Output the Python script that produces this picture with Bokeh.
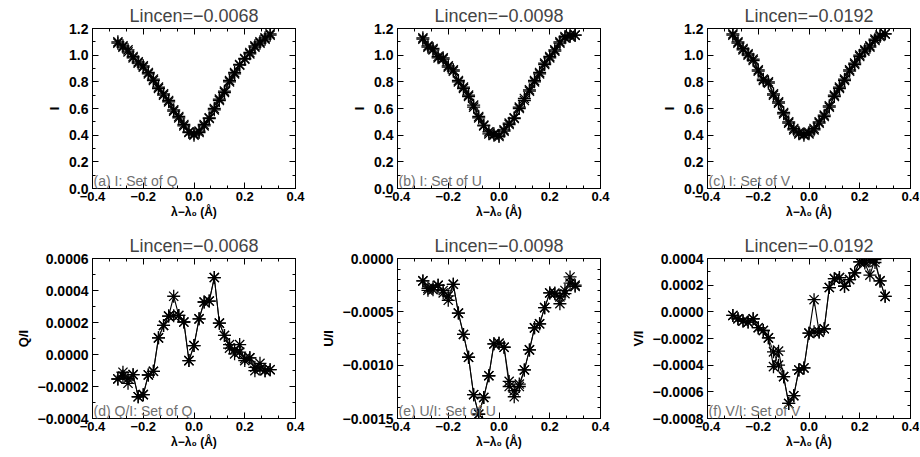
from bokeh.plotting import figure
from bokeh.models import FixedTicker, LinearAxis, Range1d, Label, CustomJSTickFormatter
from bokeh.layouts import gridplot
from bokeh.embed import file_html
from bokeh.resources import INLINE

# ---------------- data ----------------
wl = [-0.30, -0.28, -0.26, -0.24, -0.22, -0.20, -0.18, -0.16, -0.14, -0.12, -0.10,
      -0.08, -0.06, -0.04, -0.02, 0.00, 0.02, 0.04, 0.06, 0.08, 0.10,
      0.12, 0.14, 0.16, 0.18, 0.20, 0.22, 0.24, 0.26, 0.28, 0.30]

lincen = ["\u22120.0068", "\u22120.0098", "\u22120.0192"]

i_setq_a = [1.10, 1.07, 1.025, 0.99, 0.95, 0.91, 0.87, 0.81, 0.76, 0.71, 0.65, 0.59, 0.54, 0.47, 0.425, 0.41,
            0.43, 0.47, 0.525, 0.60, 0.66, 0.73, 0.81, 0.87, 0.925, 0.975, 1.02, 1.06, 1.09, 1.13, 1.16]
i_setq_b = [1.09, 1.06, 1.04, 0.98, 0.94, 0.92, 0.86, 0.82, 0.75, 0.70, 0.66, 0.58, 0.53, 0.48, 0.42, 0.40,
            0.42, 0.48, 0.53, 0.59, 0.67, 0.72, 0.80, 0.86, 0.93, 0.97, 1.01, 1.07, 1.10, 1.12, 1.15]
i_setu_a = [1.13, 1.07, 1.04, 0.99, 0.98, 0.92, 0.88, 0.81, 0.76, 0.69, 0.625, 0.54, 0.475, 0.425, 0.41, 0.39,
            0.44, 0.49, 0.525, 0.60, 0.675, 0.74, 0.81, 0.86, 0.94, 0.99, 1.04, 1.09, 1.14, 1.15, 1.15]
i_setu_b = [1.12, 1.06, 1.05, 0.98, 0.97, 0.91, 0.89, 0.80, 0.75, 0.70, 0.61, 0.53, 0.47, 0.41, 0.40, 0.40,
            0.43, 0.48, 0.53, 0.61, 0.66, 0.73, 0.80, 0.87, 0.93, 0.98, 1.03, 1.10, 1.13, 1.14, 1.15]
i_setv_a = [1.16, 1.10, 1.04, 1.01, 0.97, 0.89, 0.81, 0.80, 0.71, 0.65, 0.56, 0.50, 0.45, 0.42, 0.41, 0.41,
            0.45, 0.49, 0.54, 0.62, 0.69, 0.75, 0.81, 0.89, 0.94, 0.99, 1.03, 1.06, 1.11, 1.14, 1.16]
i_setv_b = [1.15, 1.09, 1.05, 1.00, 0.96, 0.88, 0.82, 0.79, 0.70, 0.64, 0.57, 0.49, 0.44, 0.41, 0.40, 0.42,
            0.44, 0.50, 0.55, 0.61, 0.70, 0.76, 0.82, 0.88, 0.93, 1.00, 1.04, 1.07, 1.12, 1.15, 1.16]

qi_a = [-0.000153, -0.000111, -0.000180, -0.000126, -0.000264, -0.000251, -0.000128, -0.000105, 0.000104,
        0.000182, 0.000240, 0.000364, 0.000244, 0.000203, -0.000038, 0.000056, 0.000223, 0.000328,
        0.000334, 0.000481, 0.000196, 0.000119, 0.000062, 0.000004, 0.000062, -0.000038, -0.000021,
        -0.000101, -0.000055, -0.000101, -0.000095]
qi_b = [-0.000153, -0.000135, -0.000150, -0.000126, -0.000264, -0.000251, -0.000128, -0.000105, 0.000104,
        0.000182, 0.000240, 0.000242, 0.000244, 0.000203, -0.000038, 0.000056, 0.000223, 0.000328,
        0.000334, 0.000481, 0.000196, 0.000119, 0.000040, 0.000030, 0.000015, -0.000025, -0.000021,
        -0.000080, -0.000090, -0.000101, -0.000095]

ui_a = [-0.000210, -0.000298, -0.000292, -0.000251, -0.000323, -0.000392, -0.000242, -0.000512, -0.000712,
        -0.000926, -0.001277, -0.001460, -0.001303, -0.001099, -0.000800, -0.000794, -0.000832, -0.001152,
        -0.001296, -0.001177, -0.001045, -0.000857, -0.000650, -0.000612, -0.000461, -0.000323, -0.000323,
        -0.000424, -0.000330, -0.000173, -0.000261]
ui_b = [-0.000210, -0.000280, -0.000270, -0.000251, -0.000300, -0.000350, -0.000242, -0.000512, -0.000712,
        -0.000926, -0.001277, -0.001460, -0.001303, -0.001099, -0.000800, -0.000794, -0.000832, -0.001200,
        -0.001240, -0.001200, -0.001045, -0.000857, -0.000650, -0.000612, -0.000461, -0.000323, -0.000330,
        -0.000360, -0.000300, -0.000230, -0.000250]

vi_a = [-0.000027, -0.000052, -0.000069, -0.000077, -0.000052, -0.000119, -0.000140, -0.000195, -0.000411,
        -0.000295, -0.000486, -0.000687, -0.000629, -0.000436, -0.000421, -0.000160, 0.000091, -0.000152,
        -0.000127, 0.000182, 0.000249, 0.000257, 0.000192, 0.000242, 0.000292, 0.000375, 0.000367,
        0.000275, 0.000392, 0.000232, 0.000116]
vi_b = [-0.000027, -0.000052, -0.000069, -0.000077, -0.000052, -0.000119, -0.000140, -0.000195, -0.000300,
        -0.000400, -0.000486, -0.000687, -0.000629, -0.000436, -0.000421, -0.000160, -0.000150, -0.000152,
        -0.000127, 0.000182, 0.000249, 0.000257, 0.000192, 0.000242, 0.000292, 0.000375, 0.000380,
        0.000385, 0.000370, 0.000232, 0.000116]

x_ticks = [-0.4, -0.2, 0.0, 0.2, 0.4]
x_minor = [-0.4 + k * 0.2 / 3 for k in range(13)]

FONT = "Liberation Sans"


def fmt(dec):
    return CustomJSTickFormatter(code="""
        var v = Math.abs(tick) < 1e-12 ? 0 : tick;
        return v.toFixed(%d).replace('-', '\\u2212');
    """ % dec)


def blank():
    return CustomJSTickFormatter(code="return '';")


def style_axis(ax):
    ax.major_tick_in = 6
    ax.major_tick_out = 0
    ax.minor_tick_in = 3
    ax.minor_tick_out = 0
    ax.axis_line_color = "black"
    ax.major_tick_line_color = "black"
    ax.minor_tick_line_color = "black"
    ax.major_label_text_font = FONT
    ax.major_label_text_font_style = "bold"
    ax.major_label_text_color = "black"
    ax.axis_label_text_font = FONT
    ax.axis_label_text_font_style = "bold"
    ax.axis_label_text_color = "black"


def panel(ya, yb, yr, yticks, yminor, ydec, ylabel, title, corner, width, height, left, top, bottom, right):
    p = figure(width=width, height=height, x_range=Range1d(-0.4, 0.4), y_range=Range1d(*yr),
               output_backend="svg", toolbar_location=None,
               min_border_left=left, min_border_right=right, min_border_top=top, min_border_bottom=bottom)
    p.grid.visible = False
    p.outline_line_color = "black"
    p.outline_line_width = 1
    p.title.text = "Lincen=" + title
    p.title.align = "center"
    p.title.text_font = FONT
    p.title.text_font_size = "18px"
    p.title.text_font_style = "normal"
    p.title.standoff = 5

    xax = p.xaxis[0]
    yax = p.yaxis[0]
    xax.ticker = FixedTicker(ticks=x_ticks, minor_ticks=x_minor)
    yax.ticker = FixedTicker(ticks=yticks, minor_ticks=yminor)
    xax.formatter = fmt(1)
    yax.formatter = fmt(ydec)
    xax.axis_label = "\u03bb\u2212\u03bb\u2080 (\u00c5)"
    yax.axis_label = ylabel
    style_axis(xax)
    style_axis(yax)
    xax.major_label_text_font_size = "13px"
    yax.major_label_text_font_size = "14px"
    xax.axis_label_text_font_size = "12px"
    yax.axis_label_text_font_size = "13px"
    xax.major_label_standoff = 3
    xax.axis_label_standoff = 1
    yax.major_label_standoff = 4
    yax.axis_label_standoff = 4

    tp = LinearAxis(ticker=FixedTicker(ticks=x_ticks, minor_ticks=x_minor), formatter=blank(),
                    major_label_standoff=0, axis_label_standoff=0)
    rg = LinearAxis(ticker=FixedTicker(ticks=yticks, minor_ticks=yminor), formatter=blank(),
                    major_label_standoff=0, axis_label_standoff=0)
    style_axis(tp)
    style_axis(rg)
    p.add_layout(tp, "above")
    p.add_layout(rg, "right")

    for ys, w in ((yb, 0.9), (ya, 1.1)):
        p.line(wl, ys, line_color="black", line_width=w)
        p.scatter(wl, ys, marker="asterisk", size=13, line_color="black", line_width=1.3)

    p.add_layout(Label(x=1, y=0, x_units="screen", y_units="screen", text=corner,
                       text_font=FONT, text_font_size="14px", text_color="#707070",
                       text_baseline="bottom"))
    return p


# column geometry: figure widths, left and right borders (frames ~203 px wide)
W = [307, 303, 309]
L = [92, 90, 97]
R = [12, 10, 9]
# row geometry
H1, T1, B1 = 230, 28, 42
H2, T2, B2 = 226, 28, 38

y_i = [0, 0.2, 0.4, 0.6, 0.8, 1.0, 1.2]
y_i_minor = [k * 0.1 for k in range(13)]

p1 = panel(i_setq_a, i_setq_b, (0, 1.2), y_i, y_i_minor, 1, "I", lincen[0], "(a) I: Set of Q",
           W[0], H1, L[0], T1, B1, R[0])
p2 = panel(i_setu_a, i_setu_b, (0, 1.2), y_i, y_i_minor, 1, "I", lincen[1], "(b) I: Set of U",
           W[1], H1, L[1], T1, B1, R[1])
p3 = panel(i_setv_a, i_setv_b, (0, 1.2), y_i, y_i_minor, 1, "I", lincen[2], "(c) I: Set of V",
           W[2], H1, L[2], T1, B1, R[2])
p4 = panel(qi_a, qi_b, (-0.0004, 0.0006), [-0.0004, -0.0002, 0.0, 0.0002, 0.0004, 0.0006],
           [-0.0004 + k * 0.0001 for k in range(11)], 4, "Q/I", lincen[0], "(d) Q/I: Set of Q",
           W[0], H2, L[0], T2, B2, R[0])
p5 = panel(ui_a, ui_b, (-0.0015, 0.0), [-0.0015, -0.0010, -0.0005, 0.0],
           [-0.0015 + k * 0.0001 for k in range(16)], 4, "U/I", lincen[1], "(e) U/I: Set of U",
           W[1], H2, L[1], T2, B2, R[1])
p6 = panel(vi_a, vi_b, (-0.0008, 0.0004), [-0.0008, -0.0006, -0.0004, -0.0002, 0.0, 0.0002, 0.0004],
           [-0.0008 + k * 0.0001 for k in range(13)], 4, "V/I", lincen[2], "(f) V/I: Set of V",
           W[2], H2, L[2], T2, B2, R[2])

grid = gridplot([[p1, p2, p3], [p4, p5, p6]], toolbar_location=None)

open("out.html", "w").write(file_html(grid, INLINE))
